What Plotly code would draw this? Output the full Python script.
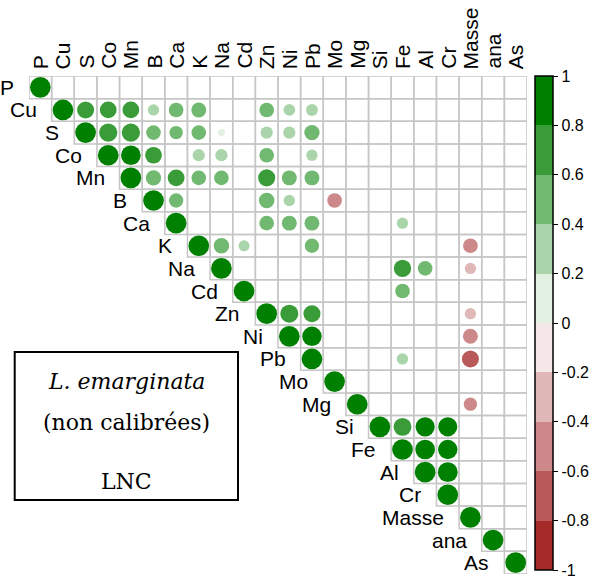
import plotly.graph_objects as go
import numpy as np

labels = ["P", "Cu", "S", "Co", "Mn", "B", "Ca", "K", "Na", "Cd", "Zn", "Ni", "Pb",
          "Mo", "Mg", "Si", "Fe", "Al", "Cr", "Masse", "ana", "As"]

# off-diagonal correlations (upper triangle, blank cells omitted)
row_var = ["Cu", "Cu", "Cu", "Cu", "Cu", "Cu", "Cu", "Cu", "Cu",
           "S", "S", "S", "S", "S", "S", "S", "S", "S",
           "Co", "Co", "Co", "Co", "Co", "Co",
           "Mn", "Mn", "Mn", "Mn", "Mn", "Mn", "Mn",
           "B", "B", "B", "B",
           "Ca", "Ca", "Ca", "Ca",
           "K", "K", "K", "K",
           "Na", "Na", "Na",
           "Cd",
           "Zn", "Zn", "Zn",
           "Ni", "Ni",
           "Pb", "Pb",
           "Mg",
           "Si", "Si", "Si",
           "Fe", "Fe",
           "Al"]
col_var = ["S", "Co", "Mn", "B", "Ca", "K", "Zn", "Ni", "Pb",
           "Co", "Mn", "B", "Ca", "K", "Na", "Zn", "Ni", "Pb",
           "Mn", "B", "K", "Na", "Zn", "Pb",
           "B", "Ca", "K", "Na", "Zn", "Ni", "Pb",
           "Ca", "Zn", "Ni", "Mo",
           "Zn", "Ni", "Pb", "Fe",
           "Na", "Cd", "Pb", "Masse",
           "Fe", "Al", "Masse",
           "Fe",
           "Ni", "Pb", "Masse",
           "Pb", "Masse",
           "Fe", "Masse",
           "Masse",
           "Fe", "Al", "Cr",
           "Al", "Cr",
           "Cr"]
corr_value = [0.68, 0.65, 0.65, 0.30, 0.50, 0.52, 0.50, 0.32, 0.33,
              0.78, 0.78, 0.50, 0.42, 0.50, 0.12, 0.35, 0.35, 0.55,
              0.90, 0.65, 0.35, 0.35, 0.50, 0.30,
              0.55, 0.66, 0.50, 0.50, 0.68, 0.52, 0.52,
              0.48, 0.56, 0.30, -0.50,
              0.50, 0.52, 0.52, 0.30,
              0.55, 0.28, 0.48, -0.50,
              0.70, 0.50, -0.30,
              0.50,
              0.76, 0.68, -0.30,
              0.88, -0.52,
              0.30, -0.68,
              -0.41,
              0.75, 0.86, 0.85,
              0.90, 0.88,
              0.92]

colorbar_ticks = [1, 0.8, 0.6, 0.4, 0.2, 0, -0.2, -0.4, -0.6, -0.8, -1]
bin_colors = ["#A52A2A", "#B95959", "#CD8989", "#E1B8B8", "#F5E7E7",
              "#E3F1E3", "#AAD5AA", "#71B871", "#399C39", "#008000"]

idx = {v: i for i, v in enumerate(labels)}
n = len(labels)

# all plotted points: diagonal + off-diagonal
px = [idx[v] for v in labels] + [idx[c] for c in col_var]
py = [idx[v] for v in labels] + [idx[r] for r in row_var]
pv = np.array([1.0] * n + corr_value)
sizes = 20.7 * np.sqrt(np.abs(pv))

colorscale = []
for k, c in enumerate(bin_colors):
    colorscale.append([k / 10, c])
    colorscale.append([(k + 1) / 10, c])

fig = go.Figure()
fig.add_trace(go.Scatter(
    x=px, y=py, mode="markers",
    marker=dict(size=sizes, color=pv, cmin=-1, cmax=1, colorscale=colorscale,
                opacity=1, line=dict(width=0), symbol="circle",
                colorbar=dict(
                    x=1.017, xanchor="left", xpad=0,
                    y=1.0, yanchor="top", ypad=0,
                    len=494, lenmode="pixels", thickness=18,
                    outlinewidth=1.5, outlinecolor="black",
                    tickmode="array", tickvals=colorbar_ticks,
                    ticktext=[("%g" % t) for t in colorbar_ticks],
                    ticks="outside", ticklen=5, tickcolor="black", tickwidth=1,
                    tickfont=dict(family="Liberation Sans", size=16, color="black"),
                )),
    hoverinfo="skip", showlegend=False,
))

shapes = []
for i in range(n):
    for j in range(i, n):
        shapes.append(dict(type="rect", xref="x", yref="y",
                           x0=j - 0.5, x1=j + 0.5, y0=i - 0.5, y1=i + 0.5,
                           line=dict(color="#c6c6c6", width=1.5),
                           fillcolor="rgba(0,0,0,0)", layer="below"))

# text box
shapes.append(dict(type="rect", xref="paper", yref="paper",
                   x0=-0.0287, x1=0.4197, y0=0.1486, y1=0.4458,
                   line=dict(color="black", width=2), fillcolor="white"))

annotations = []
lab_font = dict(family="Liberation Sans", size=21, color="black")
for v in labels:
    i = idx[v]
    annotations.append(dict(x=i - 0.5, y=i, xref="x", yref="y", text=v,
                            showarrow=False, xanchor="right", yanchor="middle",
                            xshift=-13, font=lab_font))
    annotations.append(dict(x=i, y=-0.5, xref="x", yref="y", text=v,
                            showarrow=False, xanchor="center", yanchor="bottom",
                            textangle=-90, yshift=5, font=lab_font))

box_font = dict(family="DejaVu Serif", size=22, color="black")
for txt, yy in [("<i>L. emarginata</i>", 0.3861), ("(non calibrées)", 0.3052), ("LNC", 0.1867)]:
    annotations.append(dict(x=0.1955, y=yy, xref="paper", yref="paper", text=txt,
                            xanchor="center", yanchor="middle",
                            showarrow=False, font=box_font))

fig.update_layout(
    width=605, height=585,
    margin=dict(l=29, r=78, t=76, b=11, autoexpand=False),
    paper_bgcolor="white", plot_bgcolor="white",
    xaxis=dict(range=[-0.5, n - 0.5], showgrid=False, zeroline=False,
               showticklabels=False, ticks="", fixedrange=True),
    yaxis=dict(range=[n - 0.5, -0.5], showgrid=False, zeroline=False,
               showticklabels=False, ticks="", fixedrange=True),
    shapes=shapes, annotations=annotations,
)

fig.write_html("out.html", config={"displayModeBar": False},
               post_script="document.body.style.margin='0';document.body.style.overflow='hidden';")
